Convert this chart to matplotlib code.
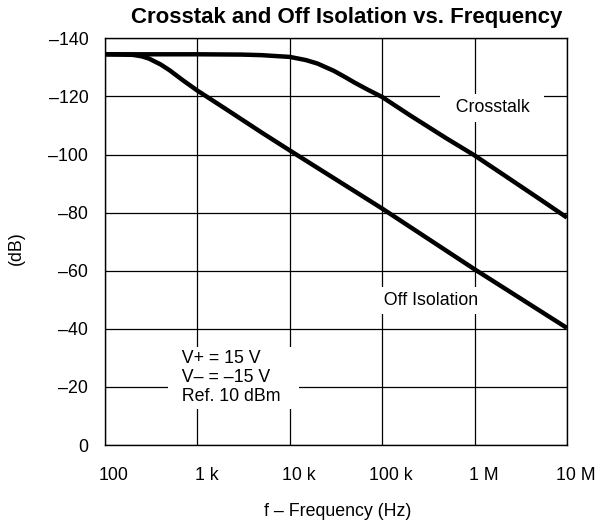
import matplotlib
matplotlib.use("Agg")
import matplotlib.pyplot as plt
from matplotlib.ticker import FixedLocator, FixedFormatter, NullLocator
from matplotlib.transforms import ScaledTranslation

plt.rcParams["font.family"] = ["Liberation Sans", "DejaVu Sans"]

# values
crosstalk_freq = [100, 1e3, 3e3, 5e3, 7e3, 1e4, 1.5e4, 2e4, 3e4, 4e4, 5e4, 7e4,
                  1e5, 2e5, 5e5, 1e6, 2e6, 5e6, 1e7]
crosstalk_db = [-134.5, -134.5, -134.4, -134.2, -133.9, -133.6, -132.5, -131.3,
                -128.8, -126.6, -124.8, -122.3, -119.8, -113.5, -105.5, -99.7,
                -93.3, -84.8, -78.3]

isolation_freq = [100, 150, 200, 250, 300, 400, 500, 700, 1e3, 2e3, 5e3,
                  1e4, 1e5, 1e6, 1e7]
isolation_db = [-134.5, -134.4, -134.3, -133.8, -133.0, -131.0, -129.0, -125.5,
                -122.0, -115.8, -107.5, -101.4, -81.4, -60.5, -40.3]

x_ticks = [1e2, 1e3, 1e4, 1e5, 1e6, 1e7]
x_tick_labels = ["100", "1 k", "10 k", "100 k", "1 M", "10 M"]
y_ticks = [0, -20, -40, -60, -80, -100, -120, -140]
y_tick_labels = ["0", "–20", "–40", "–60", "–80", "–100", "–120", "–140"]

fig = plt.figure(figsize=(5.98, 5.22), dpi=100)
ax = fig.add_axes([0.1756, 0.1475, 0.948 - 0.1756, 0.9266 - 0.1475])

ax.set_xscale("log")
ax.set_xlim(1e2, 1e7)
ax.set_ylim(0, -140)

ax.plot(crosstalk_freq, crosstalk_db, color="black", linewidth=3.2,
        solid_capstyle="butt", solid_joinstyle="round", zorder=4)
ax.plot(isolation_freq, isolation_db, color="black", linewidth=3.2,
        solid_capstyle="butt", solid_joinstyle="round", zorder=4)

ax.xaxis.set_major_locator(FixedLocator(x_ticks))
ax.xaxis.set_major_formatter(FixedFormatter(x_tick_labels))
ax.xaxis.set_minor_locator(NullLocator())
ax.yaxis.set_major_locator(FixedLocator(y_ticks))
ax.yaxis.set_major_formatter(FixedFormatter(y_tick_labels))

ax.tick_params(axis="both", length=0, labelsize=12.8)
ax.tick_params(axis="x", pad=16)
ax.tick_params(axis="y", pad=12)
# x tick labels sit a little right of the gridlines in the original
shift = ScaledTranslation(0.09, 0, fig.dpi_scale_trans)
for lab in ax.get_xticklabels():
    lab.set_transform(lab.get_transform() + shift)

ax.grid(True, color="black", linewidth=0.9, zorder=1)
ax.set_axisbelow(True)
for sp in ax.spines.values():
    sp.set_linewidth(1.0)

ax.text(0.8387, 0.829, "  Crosstalk  ", transform=ax.transAxes, fontsize=12.8,
        ha="center", va="center",
        bbox=dict(facecolor="white", edgecolor="none", boxstyle="square,pad=0.3"),
        zorder=3)
ax.text(0.706, 0.355, "  Off Isolation  ", transform=ax.transAxes, fontsize=12.8,
        ha="center", va="center",
        bbox=dict(facecolor="white", edgecolor="none", boxstyle="square,pad=0.3"),
        zorder=3)
ax.text(0.145, 0.165, "  V+ = 15 V\n  V– = –15 V\n  Ref. 10 dBm   ",
        transform=ax.transAxes, fontsize=12.8, ha="left", va="center",
        linespacing=1.16,
        bbox=dict(facecolor="white", edgecolor="none", boxstyle="square,pad=0.2"),
        zorder=3)

fig.text(0.580, 0.966, "Crosstak and Off Isolation vs. Frequency", fontsize=16,
         fontweight="bold", ha="center", va="center")
fig.text(0.5652, 0.021, "f – Frequency (Hz)", fontsize=12.8, ha="center", va="center")
fig.text(0.027, 0.525, "(dB)", fontsize=12.8, ha="center", va="center", rotation=90)

fig.savefig("out.png", dpi=100)
